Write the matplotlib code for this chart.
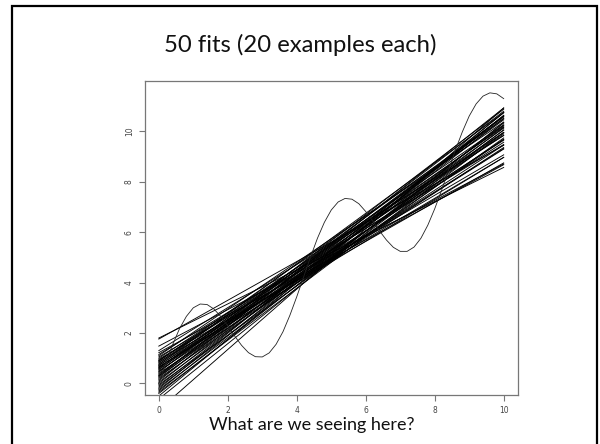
import matplotlib
matplotlib.use("Agg")
import matplotlib.pyplot as plt
from matplotlib.patches import Rectangle

# true curve
curve_x = [0.0, 0.2, 0.4, 0.6, 0.8, 1.0, 1.2, 1.4, 1.6, 1.8, 2.0, 2.2, 2.4, 2.6, 2.8,
           3.0, 3.2, 3.4, 3.6, 3.8, 4.0, 4.2, 4.4, 4.6, 4.8, 5.0, 5.2, 5.4, 5.6, 5.8,
           6.0, 6.2, 6.4, 6.6, 6.8, 7.0, 7.2, 7.4, 7.6, 7.8, 8.0, 8.2, 8.4, 8.6, 8.8,
           9.0, 9.2, 9.4, 9.6, 9.8, 10.0]
curve_y = [0.00, 0.79, 1.53, 2.17, 2.66, 3.00, 3.15, 3.13, 2.95, 2.65, 2.28, 1.88, 1.51, 1.22, 1.06,
           1.05, 1.21, 1.55, 2.05, 2.70, 3.44, 4.23, 5.02, 5.76, 6.39, 6.88, 7.20, 7.34, 7.31, 7.13,
           6.82, 6.45, 6.05, 5.69, 5.40, 5.24, 5.24, 5.41, 5.76, 6.28, 6.93, 7.67, 8.47, 9.26, 9.98,
           10.61, 11.09, 11.40, 11.53, 11.49, 11.30]

# 50 fitted lines: value at x=0 and at x=10
fit_y0 = [1.80, 1.76, 1.48, 1.30, 1.22, 1.15, 1.10, 1.05, 1.00, 0.96,
          0.92, 0.88, 0.85, 0.82, 0.78, 0.75, 0.72, 0.70, 0.66, 0.62,
          0.60, 0.57, 0.54, 0.50, 0.47, 0.44, 0.40, 0.36, 0.32, 0.28,
          0.24, 0.20, 0.15, 0.10, 0.05, 0.00, -0.05, -0.10, -0.15, -0.20,
          -0.25, -0.30, -0.40, -0.50, -0.62, -1.05, 0.90, 0.65, 0.30, -0.35]
fit_y10 = [8.57, 9.45, 8.71, 9.84, 8.68, 9.48, 10.37, 9.07, 9.96, 8.75,
           9.84, 10.50, 8.97, 10.26, 9.57, 10.75, 9.32, 10.18, 8.97, 9.95,
           10.60, 9.69, 10.46, 9.46, 10.22, 10.88, 9.36, 10.13, 10.80, 9.90,
           10.57, 9.68, 10.25, 10.93, 10.05, 10.62, 9.74, 10.52, 10.16, 10.74,
           10.06, 10.64, 10.33, 10.75, 10.36, 10.93, 9.65, 9.30, 10.61, 9.96]
x_ends = [0, 10]
ticks = [0, 2, 4, 6, 8, 10]

fig = plt.figure(figsize=(6, 4.44), dpi=100)

# slide frame
fig.patches.append(Rectangle((12 / 600, -0.05), 585 / 600, 1.05 - 6 / 444,
                             transform=fig.transFigure, fill=False,
                             edgecolor="black", linewidth=1.6))

fig.text(0.5, 1 - 45 / 444, "50 fits (20 examples each)", ha="center", va="center",
         fontsize=17.2, family="Lato", color="#111111")
fig.text(312 / 600, 1 - 425 / 444, "What are we seeing here?", ha="center", va="center",
         fontsize=13, family="Lato", color="#111111")

ax = fig.add_axes([145 / 600, 1 - 395 / 444, 372.5 / 600, 314 / 444])
for y0, y10 in zip(fit_y0, fit_y10):
    ax.plot(x_ends, [y0, y10], color="black", linewidth=0.65)
ax.plot(curve_x, curve_y, color="#222222", linewidth=0.6)

ax.set_xlim(-0.4, 10.4)
ax.set_ylim(-0.46, 12.0)
ax.set_xticks(ticks)
ax.set_yticks(ticks)
ax.set_xticklabels([str(t) for t in ticks], fontsize=5.5, color="#444444")
ax.set_yticklabels([str(t) for t in ticks], fontsize=5.5, color="#444444",
                   rotation=90, va="center")
ax.tick_params(direction="out", length=4, width=0.8, color="#777777", pad=4)
for s in ax.spines.values():
    s.set_color("#777777")
    s.set_linewidth(0.9)

fig.savefig("out.png", dpi=100)
